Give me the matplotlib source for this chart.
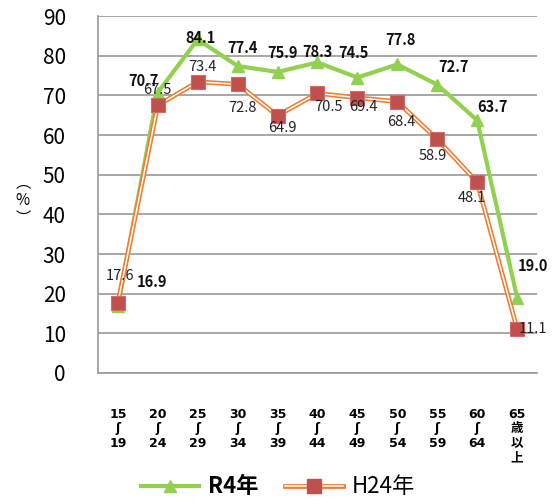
import matplotlib
matplotlib.use('Agg')
import matplotlib.pyplot as plt
from matplotlib.lines import Line2D
from matplotlib.legend_handler import HandlerTuple

plt.rcParams['font.family'] = ['Noto Sans CJK JP', 'DejaVu Sans']

categories = ['15\nʃ\n19', '20\nʃ\n24', '25\nʃ\n29', '30\nʃ\n34', '35\nʃ\n39',
              '40\nʃ\n44', '45\nʃ\n49', '50\nʃ\n54', '55\nʃ\n59', '60\nʃ\n64',
              '65\n歳\n以\n上']
r4 = [16.9, 70.7, 84.1, 77.4, 75.9, 78.3, 74.5, 77.8, 72.7, 63.7, 19.0]
h24 = [17.6, 67.5, 73.4, 72.8, 64.9, 70.5, 69.4, 68.4, 58.9, 48.1, 11.1]

# label offsets in pixels (x right, y down)
r4_off = [(34, -24), (-14, -12), (3, -1), (5, -18), (5, -19), (0, -10),
          (-4, -25), (3, -24), (16, -18), (15, -13), (16, -32)]
h24_off = [(2, -27), (0, -15), (5, -15), (5, 24), (5, 12), (11, 14),
           (6, 9), (4, 20), (-4, 17), (-5, 16), (16, 0)]

green = '#92D050'
orange = '#ED7D31'
red = '#C0504D'

fig = plt.figure(figsize=(5.56, 5.01), dpi=100)
ax = fig.add_axes([0.176, 0.2555, 0.79, 0.7125])

x = list(range(len(categories)))
ax.plot(x, r4, color=green, lw=3, marker='^', ms=9, zorder=3)
ax.plot(x, h24, color=orange, lw=3.4, zorder=4)
ax.plot(x, h24, color='white', lw=1.1, zorder=5)
ax.plot(x, h24, ls='none', marker='s', ms=10, color=red,
        markeredgecolor='#D46A66', markeredgewidth=0.8, zorder=6)

for i, v in enumerate(r4):
    dx, dy = r4_off[i]
    ax.annotate(f'{v:.1f}', (i, v), xytext=(dx, -dy), textcoords='offset pixels',
                ha='center', va='center', fontsize=10.5, fontweight='bold',
                color='#111111', zorder=7)
for i, v in enumerate(h24):
    dx, dy = h24_off[i]
    ax.annotate(f'{v:.1f}', (i, v), xytext=(dx, -dy), textcoords='offset pixels',
                ha='center', va='center', fontsize=10.5, color='#222222', zorder=7)

ax.set_xlim(-0.5, len(categories) - 0.5)
ax.set_ylim(0, 90)
ax.set_yticks(range(0, 91, 10))
ax.tick_params(axis='y', length=0, pad=23, labelsize=15)
ax.set_xticks(x)
ax.set_xticklabels(categories, fontsize=9, fontweight='bold', linespacing=1.15,
                   family=['DejaVu Sans', 'Noto Sans CJK JP'])
ax.tick_params(axis='x', length=0, pad=25)
ax.grid(axis='y', color='#A0A0A0', lw=1.3)
ax.set_axisbelow(True)
for s in ['top', 'right']:
    ax.spines[s].set_visible(False)
for s in ['left', 'bottom']:
    ax.spines[s].set_color('#A0A0A0')
    ax.spines[s].set_linewidth(1.3)

fig.text(0.041, 0.6, '︵\n%\n︶', ha='center', va='center', fontsize=11,
         linespacing=1.1)

h_r4 = Line2D([], [], color=green, lw=3, marker='^', ms=9)
h_a = Line2D([], [], color=orange, lw=3.4)
h_b = Line2D([], [], color='white', lw=1.1)
h_c = Line2D([], [], ls='none', marker='s', ms=10, color=red)
leg = fig.legend([h_r4, (h_a, h_b, h_c)], ['R4年', 'H24年'],
                 handler_map={tuple: HandlerTuple(ndivide=1)},
                 loc='center', bbox_to_anchor=(0.5, 0.028), ncol=2, frameon=False,
                 fontsize=16, handlelength=2.6, columnspacing=1.2, handletextpad=0.4)
leg.get_texts()[0].set_fontweight('bold')

fig.savefig('out.png', dpi=100)
